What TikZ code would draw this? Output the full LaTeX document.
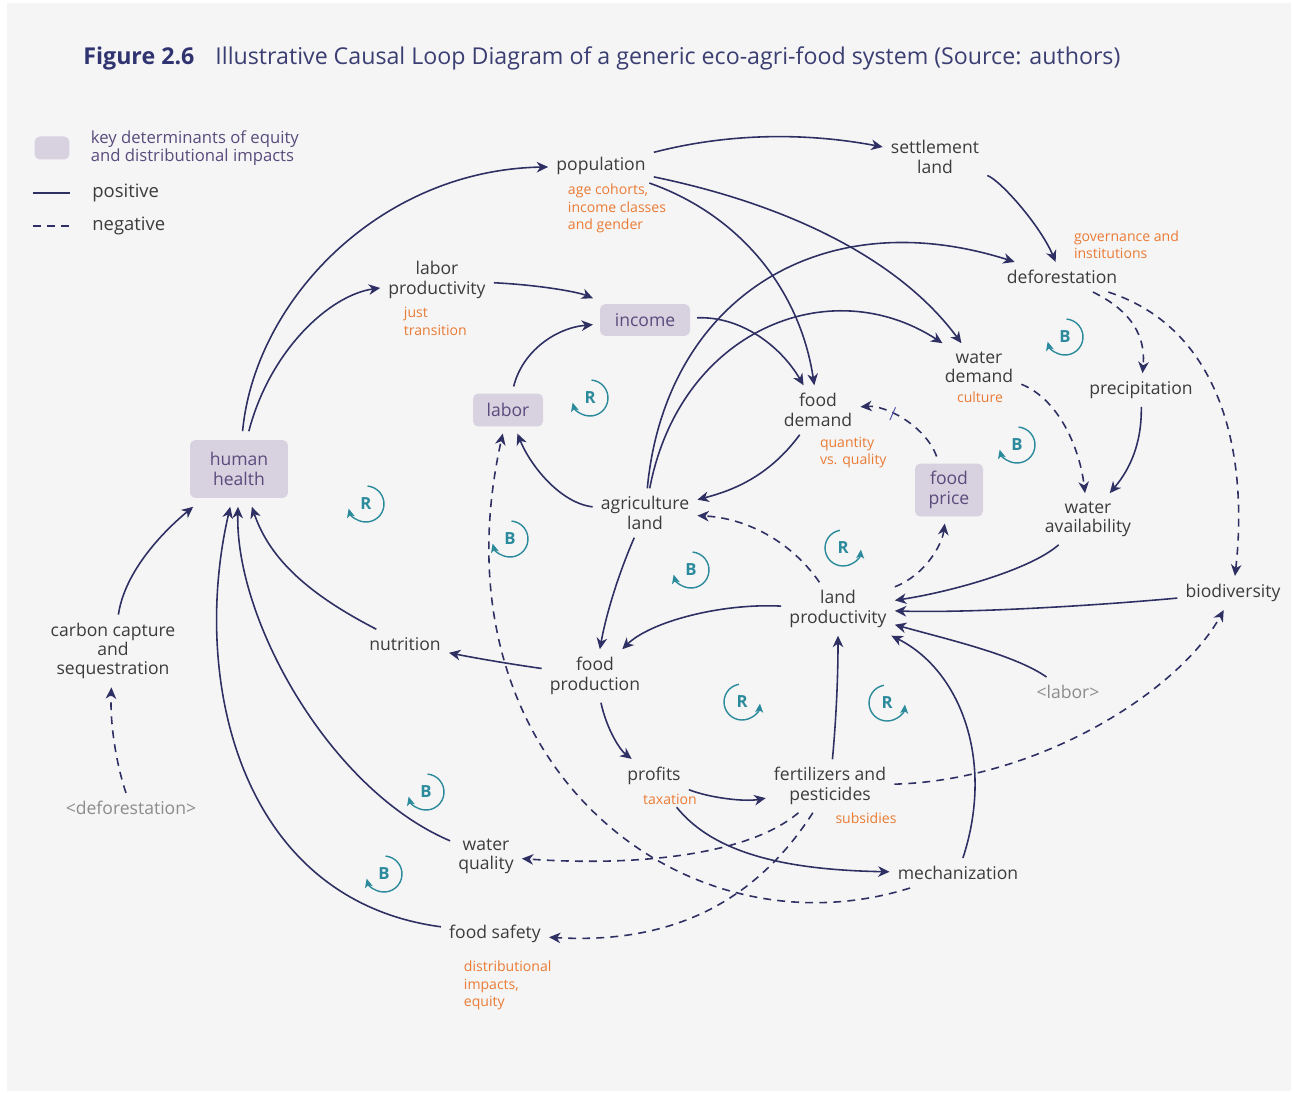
\documentclass[tikz,border=0pt]{standalone}
\usepackage{fontspec}
\setmainfont{Open Sans}
\usetikzlibrary{arrows.meta,positioning}
\definecolor{cldnavy}{HTML}{2E2F62}
\definecolor{cldteal}{HTML}{2B8A9B}
\definecolor{cldorange}{HTML}{EA7B35}
\definecolor{keyfill}{HTML}{D8D1DF}
\definecolor{keytext}{HTML}{5A4B7D}
\definecolor{labeltext}{HTML}{3C3C3C}
\definecolor{ghosttext}{HTML}{8C8C8C}
\definecolor{panel}{HTML}{F5F5F5}
\definecolor{titlenavy}{HTML}{2F3370}
\definecolor{tickblue}{HTML}{5A5FB0}

\begin{document}
\begin{tikzpicture}[x=0.02cm, y=-0.02cm,
			var/.style={text=labeltext, font=\fontsize{10}{11}\selectfont, align=center, inner sep=4.5pt},
			key/.style={var, fill=keyfill, text=keytext, rounded corners=3pt, inner sep=2pt, outer sep=4pt},
			ghost/.style={var, text=ghosttext},
			note/.style={text=cldorange, font=\fontsize{8}{9.9}\selectfont, align=left, inner sep=1.5pt},
			legend/.style={text=labeltext, font=\fontsize{10.5}{11}\selectfont, align=left, inner sep=0pt},
			posedge/.style={draw=cldnavy, line width=0.9pt, -{Stealth[length=6.5pt, width=6pt, inset=2pt]}},
			negedge/.style={posedge, dash pattern=on 4.5pt off 3.5pt},
			delay/.style={draw=tickblue, solid, line width=0.6pt, inner sep=0pt, minimum width=0pt, minimum height=8pt},
			loopline/.style={draw=cldteal, line width=0.8pt, -{Stealth[length=5pt, width=4.5pt, inset=1.2pt]}},
			looplabel/.style={text=cldteal, font=\fontsize{9.5}{10}\selectfont\bfseries, inner sep=0pt},
			loopcw/.pic={\draw[loopline] (85:0.36cm) arc[start angle=85, end angle=-165, radius=0.36cm];
				\node[looplabel] (-l) {#1};},
			loopccw/.pic={\draw[loopline] (100:0.36cm) arc[start angle=100, end angle=355, radius=0.36cm];
				\node[looplabel] (-l) {#1};}
		]
		\useasboundingbox (0,0) rectangle (1293,1094);
		\fill[white] (0,0) rectangle (1293,1094);
		\fill[panel] (7,3) rectangle (1291,1091);

		\node[anchor=west, inner sep=0pt, font=\fontsize{13.2}{15}\selectfont] (title) at (83,58)
			{\textcolor{titlenavy}{\bfseries Figure 2.6}\hspace{12pt}\textcolor{titlenavy!85!gray}{Illustrative Causal Loop Diagram of a generic eco-agri-food system (Source: authors)}};

		% legend
		\node[key, minimum width=0.7cm, minimum height=0.46cm, outer sep=0pt] (legkey) at (52,148) {};
		\node[legend, text=keytext, font=\fontsize{9.5}{10.2}\selectfont, right=0.42cm of legkey] (legkeytxt) {key determinants of equity\\and distributional impacts};
		\coordinate (posa) at (33,193);
		\coordinate (posb) at (70,193);
		\coordinate (nega) at (33,226);
		\coordinate (negb) at (70,226);
		\draw[draw=cldnavy, line width=0.9pt] (posa) -- (posb);
		\draw[draw=cldnavy, line width=0.9pt, dash pattern=on 4.5pt off 3.5pt] (nega) -- (negb);
		\node[legend, anchor=west] (postxt) at (92,193) {positive};
		\node[legend, anchor=west] (negtxt) at (92,226) {negative};

		\node[var] (pop) at (601,166) {population};
		\node[var] (settle) at (935,157) {settlement\\land};
		\node[var] (defor) at (1062,277) {deforestation};
		\node[var] (laborprod) at (437,280) {labor\\productivity};
		\node[key, minimum width=1.8cm, minimum height=0.64cm] (income) at (645,320) {income};
		\node[key, minimum width=1.4cm, minimum height=0.66cm] (labor) at (508,410) {labor};
		\node[key, minimum width=1.96cm, minimum height=1.16cm, outer sep=5pt] (health) at (239,469) {human\\health};
		\node[var] (fooddem) at (818,410) {food\\demand};
		\node[var] (waterdem) at (979,367) {water\\demand};
		\node[var] (precip) at (1141,390) {precipitation};
		\node[key, minimum width=1.36cm, minimum height=1.06cm] (foodprice) at (949,490) {food\\price};
		\node[var] (agland) at (645,513) {agriculture\\land};
		\node[var] (wateravail) at (1088,519) {water\\availability};
		\node[var] (biodiv) at (1233,593) {biodiversity};
		\node[var] (landprod) at (838,609) {land\\productivity};
		\node[var] (nutrition) at (405,644) {nutrition};
		\node[var] (foodprod) at (595,676) {food\\production};
		\node[var] (carbon) at (113,651) {carbon capture\\and\\sequestration};
		\node[ghost] (defor2) at (131,808) {<deforestation>};
		\node[ghost] (labor2) at (1068,692) {<labor>};
		\node[var] (profits) at (654,776) {profits};
		\node[var] (fert) at (830,786) {fertilizers and\\pesticides};
		\node[var] (waterq) at (486,856) {water\\quality};
		\node[var] (mech) at (958,873) {mechanization};
		\node[var] (safety) at (495,934) {food safety};

		\node[note, anchor=west] (popnote) at (565,208.5) {age cohorts,\\income classes\\and gender};
		\node[note, anchor=west] (defornote) at (1071,244.5) {governance and\\institutions};
		\node[note, anchor=west] (laborprodnote) at (401,321.5) {just\\transition};
		\node[note] (waterdemnote) at (980,397) {culture};
		\node[note, anchor=west] (fooddemnote) at (817,452.5) {quantity\\vs. quality};
		\node[note] (taxnote) at (670,799) {taxation};
		\node[note] (fertnote) at (866,818) {subsidies};
		\node[note, anchor=west] (safetynote) at (461,985.5) {distributional\\impacts,\\equity};

		\draw[posedge] (health) .. controls (255,300) and (380,170) .. (pop);
		\draw[posedge] (health) .. controls (270,350) and (330,295) .. (laborprod);
		\draw[posedge] (pop) .. controls (740,130) and (820,135) .. (settle);
		\draw[posedge] (pop) .. controls (740,215) and (800,290) .. (fooddem);
		\draw[posedge] (pop) .. controls (790,205) and (900,260) .. (waterdem);
		\draw[posedge] (settle) .. controls (1000,180) and (1040,225) .. (defor);
		\draw[posedge] (laborprod) .. controls (540,285) and (578,292) .. (income);
		\draw[posedge] (labor) .. controls (522,352) and (555,328) .. (income);
		\draw[posedge] (income) .. controls (740,316) and (780,345) .. (fooddem);
		\draw[posedge] (agland) .. controls (665,300) and (820,200) .. (defor);
		\draw[posedge] (agland) .. controls (680,330) and (830,270) .. (waterdem);
		\draw[posedge] (fooddem) .. controls (770,475) and (735,490) .. (agland);
		\draw[negedge] (foodprice) .. controls (925,425) and (885,405) .. (fooddem) node[delay, pos=0.62, sloped] (tick) {};
		\draw[negedge] (waterdem) .. controls (1060,400) and (1080,450) .. (wateravail);
		\draw[negedge] (defor) .. controls (1140,315) and (1145,345) .. (precip);
		\draw[negedge] (defor) .. controls (1225,330) and (1248,460) .. (biodiv);
		\draw[posedge] (precip) .. controls (1142,450) and (1125,475) .. (wateravail);
		\draw[posedge] (wateravail) .. controls (1030,570) and (950,592) .. (landprod);
		\draw[posedge] (biodiv) .. controls (1080,607) and (960,613) .. (landprod);
		\draw[posedge] (labor2) .. controls (1015,655) and (950,640) .. (landprod);
		\draw[posedge] (mech) .. controls (995,760) and (960,670) .. (landprod);
		\draw[posedge] (fert) .. controls (836,720) and (838,680) .. (landprod);
		\draw[negedge] (landprod) .. controls (790,540) and (745,518) .. (agland);
		\draw[negedge] (landprod) .. controls (925,575) and (942,545) .. (foodprice);
		\draw[posedge] (landprod) .. controls (720,603) and (650,622) .. (foodprod);
		\draw[posedge] (agland) .. controls (618,575) and (606,615) .. (foodprod);
		\draw[posedge] (agland) .. controls (560,503) and (530,465) .. (labor);
		\draw[posedge] (foodprod) .. controls (510,664) and (475,658) .. (nutrition);
		\draw[posedge] (nutrition) .. controls (310,595) and (270,560) .. (health);
		\draw[posedge] (carbon) .. controls (125,570) and (165,530) .. (health);
		\draw[negedge] (defor2) .. controls (115,760) and (110,720) .. (carbon);
		\draw[posedge] (waterq) .. controls (330,790) and (235,620) .. (health);
		\draw[posedge] (safety) .. controls (240,900) and (190,680) .. (health);
		\draw[posedge] (foodprod) .. controls (607,730) and (620,750) .. (profits);
		\draw[posedge] (profits) .. controls (710,798) and (745,802) .. (fert);
		\draw[posedge] (taxnote) .. controls (715,855) and (790,870) .. (mech);
		\draw[negedge] (fert) .. controls (1040,780) and (1180,690) .. (biodiv);
		\draw[negedge] (fert) .. controls (745,858) and (625,866) .. (waterq);
		\draw[negedge] (fert) .. controls (760,895) and (680,945) .. (safety);
		\draw[negedge] (mech) .. controls (680,960) and (430,760) .. (labor);

		\pic (lr1) at (590,398) {loopcw=R};
		\pic (lb1) at (1065,337) {loopcw=B};
		\pic (lb2) at (1017,445) {loopcw=B};
		\pic (lr2) at (366,504) {loopcw=R};
		\pic (lb3) at (510,539) {loopcw=B};
		\pic (lb4) at (691,570) {loopcw=B};
		\pic (lr3) at (843,548) {loopccw=R};
		\pic (lr4) at (742,702) {loopccw=R};
		\pic (lr5) at (887,703) {loopccw=R};
		\pic (lb5) at (426,792) {loopcw=B};
		\pic (lb6) at (384,874) {loopcw=B};
		\end{tikzpicture}
\end{document}
